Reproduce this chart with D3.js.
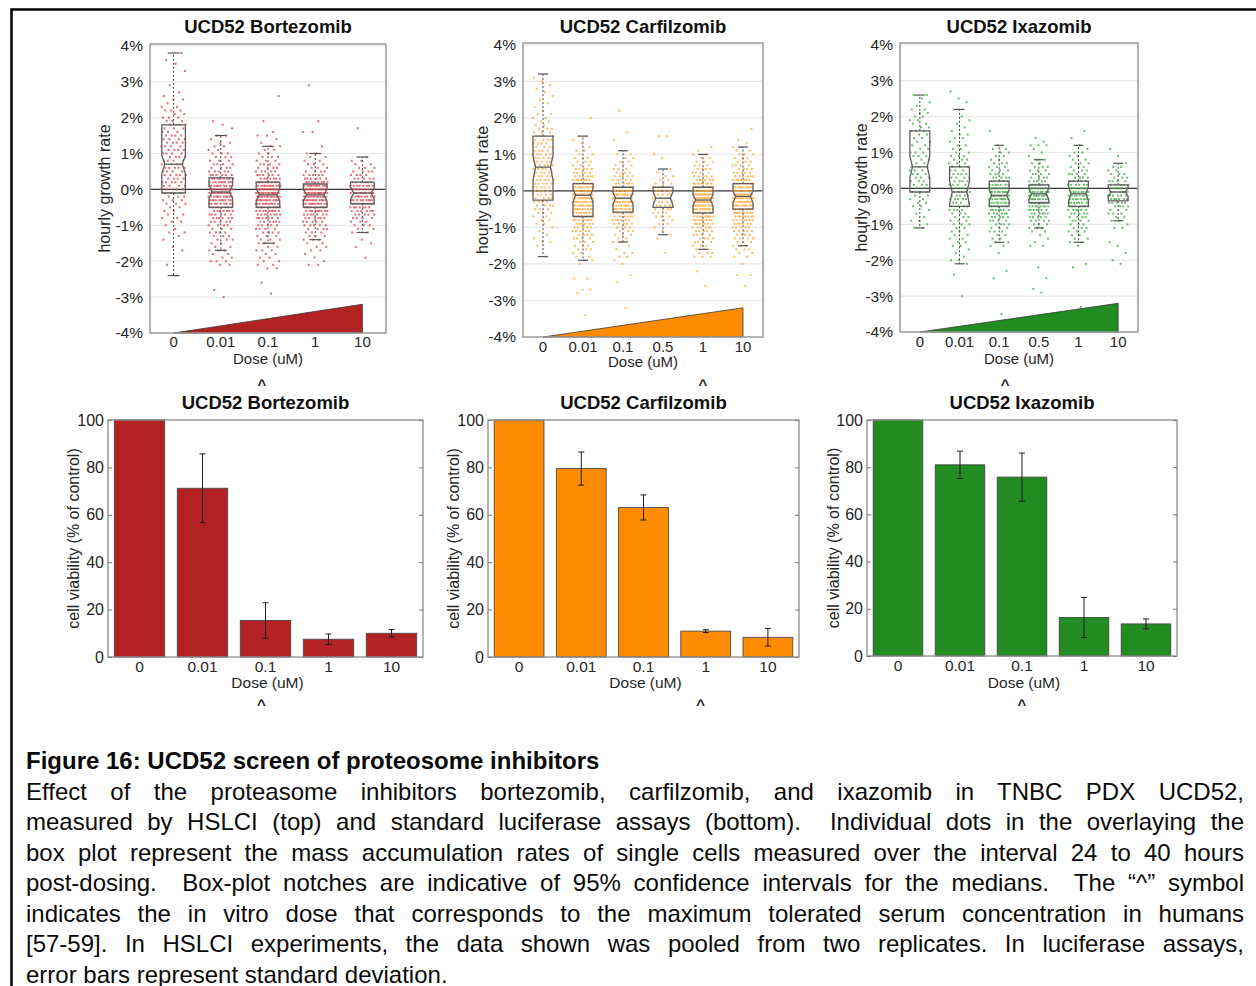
<!DOCTYPE html>
<html>
<head>
<meta charset="utf-8">
<script src="https://cdn.jsdelivr.net/npm/d3@7"></script>
<style>
  html, body { margin: 0; padding: 0; background: #fff; }
  #wrap { position: relative; width: 1256px; height: 986px; overflow: hidden; }
  #fig { position: absolute; left: 0; top: 0; }
  #caption {
    position: absolute; left: 26px; top: 746px; width: 1218px;
    font-family: "Liberation Sans", Arial, sans-serif; font-size: 24px;
    line-height: 30.5px; color: #0a0a0a;
  }
  #caption .ln { text-align: justify; text-align-last: justify; height: 30.5px; overflow: hidden; white-space: nowrap; }
  #caption .last { text-align: left; text-align-last: left; }
  #caption .head { font-weight: bold; font-size: 24px; text-align: left; text-align-last: left; }
</style>
</head>
<body>
<div id="wrap">
  <svg id="fig" width="1256" height="986"></svg>
  <div id="caption"></div>
</div>
<script>
// ---------------- data ----------------
// Doses (uM) used in each screen
const dosesBortezomib = ["0", "0.01", "0.1", "1", "10"];
const dosesCarfilzomib = ["0", "0.01", "0.1", "0.5", "1", "10"];
const dosesIxazomib = ["0", "0.01", "0.1", "0.5", "1", "10"];

// Notched box statistics per dose, hourly growth rate in %:
// [whiskerLow, q1, notchLow, median, notchHigh, q3, whiskerHigh]
const boxBortezomib = [
  [-2.4, -0.1, 0.45, 0.7, 0.95, 1.8, 3.8],
  [-1.7, -0.5, -0.25, -0.07, 0.13, 0.32, 1.5],
  [-1.5, -0.5, -0.32, -0.15, 0.02, 0.2, 1.2],
  [-1.4, -0.5, -0.32, -0.15, 0.0, 0.15, 1.0],
  [-1.2, -0.4, -0.27, -0.1, 0.06, 0.2, 0.9]
];
const boxCarfilzomib = [
  [-1.8, -0.25, 0.3, 0.65, 0.95, 1.5, 3.2],
  [-1.9, -0.7, -0.3, -0.12, 0.05, 0.2, 1.5],
  [-1.4, -0.58, -0.36, -0.2, -0.05, 0.1, 1.1],
  [-1.2, -0.45, -0.4, -0.2, -0.02, 0.1, 0.6],
  [-1.6, -0.6, -0.4, -0.25, -0.1, 0.1, 1.0],
  [-1.5, -0.5, -0.32, -0.15, 0.0, 0.2, 1.2]
];
const boxIxazomib = [
  [-1.1, -0.1, 0.3, 0.6, 0.9, 1.6, 2.6],
  [-2.1, -0.5, -0.45, -0.1, 0.2, 0.6, 2.2],
  [-1.5, -0.5, -0.33, -0.2, -0.05, 0.2, 1.2],
  [-1.1, -0.4, -0.3, -0.15, 0.0, 0.1, 0.8],
  [-1.5, -0.5, -0.35, -0.15, 0.05, 0.2, 1.2],
  [-0.9, -0.35, -0.22, -0.1, 0.02, 0.1, 0.7]
];

// Single-cell mass accumulation rates, tallied per 0.1 %/h step:
// "from" is the lowest rate, n[k] counts cells at from + 0.1*k
const cellsBortezomib = [
  { from: -2.4, n: [1,0,0,1,0,0,0,1,1,0,1,1,2,1,1,2,2,2,2,2,3,3,3,4,5,4,5,4,5,4,5,4,4,4,4,4,4,4,4,4,3,3,4,3,3,2,3,2,1,2,1,1,0,1,0,0,0,1,0,1,1,0,1] },
  { from: -3.0, n: [1,0,1,0,0,0,0,0,0,2,3,2,2,3,2,2,3,3,4,3,4,5,6,6,7,8,9,10,11,12,12,10,9,8,6,5,4,4,3,3,3,2,2,2,1,2,0,1,1,1] },
  { from: -2.9, n: [1,0,0,1,0,0,0,2,2,2,2,2,3,2,3,3,3,4,4,5,6,7,8,9,10,11,12,13,14,13,11,9,7,6,5,4,4,3,3,2,2,2,1,1,2,1,0,0,1,0,0,0,0,0,0,1] },
  { from: -2.1, n: [2,1,1,1,2,2,2,3,3,3,4,5,5,6,7,9,10,11,12,13,14,13,11,8,6,5,4,3,3,2,2,2,0,1,0,0,0,2,0,0,1,0,0,0,0,0,0,0,0,0,1] },
  { from: -1.9, n: [1,0,0,1,1,1,0,2,2,3,3,4,5,6,7,8,9,9,10,9,8,6,5,4,4,3,2,2,1,0,0,0,0,0,0,0,1] }
];
const cellsCarfilzomib = [
  { from: -1.8, n: [1,0,0,1,2,1,1,1,1,2,2,2,3,3,4,4,4,5,5,5,5,5,5,5,5,5,5,5,5,4,4,4,4,4,3,3,2,2,2,2,1,1,1,1,1,1,1,1,1,1,1] },
  { from: -3.4, n: [1,0,0,0,0,0,1,2,0,0,2,0,0,0,1,2,2,2,3,3,3,4,4,5,5,6,7,8,8,9,10,11,12,12,11,10,8,7,6,5,5,3,3,3,2,2,1,1,1,2,0,0,0,0,1] },
  { from: -3.2, n: [1,0,0,0,0,0,0,1,0,1,0,0,1,1,2,2,1,1,2,2,3,3,4,5,6,7,8,9,9,10,10,10,9,7,6,5,5,4,3,3,2,2,2,1,0,0,1,0,1,0,0,0,0,0,1] },
  { from: -1.7, n: [1,0,0,0,1,1,1,1,2,2,3,3,4,5,5,6,5,5,4,3,2,2,1,1,0,0,1,1,0,0,0,0,2] },
  { from: -2.6, n: [1,0,0,0,1,0,0,0,3,3,3,3,4,4,4,5,6,7,8,9,10,11,12,13,13,13,12,10,8,6,5,4,4,3,3,2,2,1,1] },
  { from: -2.6, n: [1,0,0,2,0,0,1,0,2,2,3,3,3,4,4,5,5,6,7,8,9,10,11,12,12,12,11,10,9,7,6,5,4,4,3,3,3,2,2,1,1,0,0,1] }
];
const cellsIxazomib = [
  { from: -1.1, n: [2,1,2,1,1,1,2,2,2,2,2,3,3,3,3,3,3,3,2,2,3,3,2,2,2,2,2,3,2,2,2,2,2,2,1,1,1,2] },
  { from: -3.0, n: [1,0,0,0,0,0,1,0,0,1,2,1,1,1,2,2,2,2,2,2,3,3,3,3,4,4,4,5,5,5,5,4,4,4,4,3,3,3,3,3,2,2,2,1,2,2,1,1,1,1,1,0,1,0,1,1,0,1] },
  { from: -3.5, n: [1,0,0,0,0,0,0,0,0,0,1,0,1,0,0,0,0,1,0,2,2,2,2,3,3,4,4,5,6,7,8,8,9,9,9,8,7,6,5,4,3,3,3,2,2,2,2,1,0,0,0,1] },
  { from: -2.9, n: [1,1,0,0,1,0,0,1,0,0,0,0,0,2,1,1,1,2,3,3,4,5,6,7,8,9,9,10,9,8,7,5,4,4,3,3,2,2,1,1,1,3,1,1] },
  { from: -3.3, n: [1,0,0,0,0,0,0,0,0,0,0,1,1,0,0,0,0,1,2,2,2,3,3,3,4,4,5,6,7,7,8,8,8,7,6,5,4,4,3,3,3,2,2,2,1,1,0,1,0,1] },
  { from: -2.1, n: [1,1,0,1,0,1,1,0,0,0,2,1,2,2,3,3,4,5,6,6,6,6,5,4,3,3,2,2,1,0,1,0,1] }
];
// lowest and highest value of the dose ramp drawn under each box plot (%)
const rampRange = [-4, -3.2];

// Luciferase viability (% of control), mean and standard deviation
const viabilityDoses = ["0", "0.01", "0.1", "1", "10"];
const viabilityBortezomib = [100, 71.2, 15.4, 7.5, 10.0];
const sdBortezomib = [0, 14.5, 7.5, 2.2, 1.6];
const viabilityCarfilzomib = [100, 79.5, 63.1, 10.9, 8.3];
const sdCarfilzomib = [0, 7.0, 5.3, 0.6, 3.7];
const viabilityIxazomib = [100, 81.0, 75.8, 16.3, 13.6];
const sdIxazomib = [0, 5.8, 10.2, 8.5, 2.1];

// ---------------- drawing ----------------
const svg = d3.select("#fig");
const FONT = '"Liberation Sans", Arial, Helvetica, sans-serif';

// outer frame of the figure
svg.append("path")
  .attr("d", "M11.5,986 V9.5 H1256")
  .attr("fill", "none").attr("stroke", "#000").attr("stroke-width", 2.5);

const topPanels = [
  { title: "UCD52 Bortezomib", doses: dosesBortezomib, box: boxBortezomib, cells: cellsBortezomib,
    fill: "#b22222", dot: "#d6474b", left: 150, right: 386, top: 44, bottom: 333,
    tickDy: 3, doseY: 358, titleX: 105, mtd: "0.1", mtdDx: -6 },
  { title: "UCD52 Carfilzomib", doses: dosesCarfilzomib, box: boxCarfilzomib, cells: cellsCarfilzomib,
    fill: "#ff8c00", dot: "#ffa63a", left: 523, right: 763, top: 43, bottom: 337,
    tickDy: 4, doseY: 361, titleX: 483, mtd: "1", mtdDx: 0 },
  { title: "UCD52 Ixazomib", doses: dosesIxazomib, box: boxIxazomib, cells: cellsIxazomib,
    fill: "#228b22", dot: "#45ab45", left: 900, right: 1138, top: 43, bottom: 332,
    tickDy: 4.5, doseY: 358, titleX: 862, mtd: "0.1", mtdDx: 6 }
];

topPanels.forEach(p => {
  const g = svg.append("g");
  const x = d3.scaleBand().domain(p.doses).range([p.left, p.right]);
  const y = d3.scaleLinear().domain([-4, 4.05]).range([p.bottom, p.top]);
  const cx = d => x(d) + x.bandwidth() / 2;
  const bw = x.bandwidth() * 0.5;

  // grid
  g.append("g").selectAll("line").data(d3.range(-3, 5))
    .join("line")
    .attr("x1", p.left).attr("x2", p.right)
    .attr("y1", d => y(d)).attr("y2", d => y(d))
    .attr("stroke", "#e9e9e9").attr("stroke-width", 1.2);

  // dose ramp
  const last = p.doses[p.doses.length - 1];
  g.append("path")
    .attr("d", d3.line()([
      [cx(p.doses[0]), y(rampRange[0])],
      [cx(last), y(rampRange[1])],
      [cx(last), y(rampRange[0])]
    ]) + "Z")
    .attr("fill", p.fill).attr("stroke", "#3a3a3a").attr("stroke-width", 0.8);

  // zero line
  g.append("line")
    .attr("x1", p.left).attr("x2", p.right)
    .attr("y1", y(0)).attr("y2", y(0))
    .attr("stroke", "#3c3c3c").attr("stroke-width", 1.1);

  // single-cell dots, spread sideways across the box width
  p.doses.forEach((dose, i) => {
    const grp = p.cells[i];
    const vals = [];
    grp.n.forEach((c, k) => { for (let j = 0; j < c; j++) vals.push(+(grp.from + k * 0.1).toFixed(1)); });
    g.append("g").selectAll("rect").data(vals).join("rect")
      .attr("x", (v, j) => cx(dose) + ((((j + 1) * 0.6180339887) % 1) - 0.5) * bw * 1.05 - 1)
      .attr("y", v => y(v) - 1)
      .attr("width", 2).attr("height", 2)
      .attr("fill", p.dot).attr("opacity", 0.78);
  });

  // notched boxes with whiskers
  p.doses.forEach((dose, i) => {
    const [wl, q1, nl, med, nh, q3, wh] = p.box[i];
    const c = cx(dose), h = bw / 2, ins = bw * 0.13;
    const bg = g.append("g");
    // whiskers
    bg.append("line").attr("x1", c).attr("x2", c).attr("y1", y(q3)).attr("y2", y(wh))
      .attr("stroke", "#444").attr("stroke-width", 1).attr("stroke-dasharray", "2,2");
    bg.append("line").attr("x1", c).attr("x2", c).attr("y1", y(q1)).attr("y2", y(wl))
      .attr("stroke", "#444").attr("stroke-width", 1).attr("stroke-dasharray", "2,2");
    [wl, wh].forEach(v => bg.append("line")
      .attr("x1", c - h / 2).attr("x2", c + h / 2).attr("y1", y(v)).attr("y2", y(v))
      .attr("stroke", "#555").attr("stroke-width", 1.2));
    // box outline with notch
    const pts = [
      [c - h, y(q3)], [c - h, y(nh)], [c - h + ins, y(med)], [c - h, y(nl)], [c - h, y(q1)],
      [c + h, y(q1)], [c + h, y(nl)], [c + h - ins, y(med)], [c + h, y(nh)], [c + h, y(q3)]
    ];
    bg.append("path").attr("d", d3.line()(pts) + "Z")
      .attr("fill", "none").attr("stroke", "#5e5e5e").attr("stroke-width", 1.3);
    bg.append("line").attr("x1", c - h + ins).attr("x2", c + h - ins)
      .attr("y1", y(med)).attr("y2", y(med))
      .attr("stroke", "#5e5e5e").attr("stroke-width", 1.3);
  });

  // frame
  g.append("rect").attr("x", p.left).attr("y", p.top)
    .attr("width", p.right - p.left).attr("height", p.bottom - p.top)
    .attr("fill", "none").attr("stroke", "#9a9a9a").attr("stroke-width", 1.5);

  // axes
  const ya = g.append("g").attr("transform", `translate(${p.left - 2},0)`)
    .call(d3.axisLeft(y).tickValues(d3.range(-4, 5)).tickFormat(d => d + "%").tickSize(0).tickPadding(5));
  ya.select(".domain").remove();
  ya.selectAll("text").attr("font-family", FONT).attr("font-size", 15.5).attr("fill", "#262626");

  const xa = g.append("g").attr("transform", `translate(0,${p.bottom + p.tickDy})`)
    .call(d3.axisBottom(x).tickSize(0).tickPadding(0));
  xa.select(".domain").remove();
  xa.selectAll("text").attr("font-family", FONT).attr("font-size", 15).attr("fill", "#262626");

  g.append("text").attr("x", (p.left + p.right) / 2).attr("y", p.doseY + 6)
    .attr("text-anchor", "middle").attr("font-family", FONT).attr("font-size", 15)
    .attr("fill", "#262626").text("Dose (uM)");
  g.append("text").attr("x", cx(p.mtd) + p.mtdDx).attr("y", 390)
    .attr("text-anchor", "middle").attr("font-family", FONT).attr("font-size", 15)
    .attr("font-weight", "bold").attr("fill", "#222").text("^");

  g.append("text")
    .attr("transform", `translate(${p.titleX + 5},${(p.top + p.bottom) / 2}) rotate(-90)`)
    .attr("text-anchor", "middle").attr("font-family", FONT).attr("font-size", 16)
    .attr("fill", "#262626").text("hourly growth rate");

  g.append("text").attr("x", (p.left + p.right) / 2).attr("y", 33)
    .attr("text-anchor", "middle").attr("font-family", FONT).attr("font-size", 18.5)
    .attr("font-weight", "bold").attr("fill", "#111").text(p.title);
});

const bottomPanels = [
  { title: "UCD52 Bortezomib", values: viabilityBortezomib, sd: sdBortezomib, fill: "#b22222",
    left: 108, right: 423, top: 420, bottom: 657, titleX: 73, mtd: "0.1", mtdDx: -4 },
  { title: "UCD52 Carfilzomib", values: viabilityCarfilzomib, sd: sdCarfilzomib, fill: "#ff8c00",
    left: 488, right: 799, top: 420, bottom: 657, titleX: 453, mtd: "1", mtdDx: -5 },
  { title: "UCD52 Ixazomib", values: viabilityIxazomib, sd: sdIxazomib, fill: "#228b22",
    left: 867, right: 1177, top: 420, bottom: 656, titleX: 833, mtd: "0.1", mtdDx: 0 }
];

bottomPanels.forEach(p => {
  const g = svg.append("g");
  const x = d3.scaleBand().domain(viabilityDoses).range([p.left, p.right])
    .paddingInner(0.2).paddingOuter(0.1);
  const y = d3.scaleLinear().domain([0, 100]).range([p.bottom, p.top]);
  const rows = viabilityDoses.map((d, i) => ({ dose: d, v: p.values[i], sd: p.sd[i] }));

  g.append("g").selectAll("rect").data(rows).join("rect")
    .attr("x", d => x(d.dose)).attr("y", d => y(d.v))
    .attr("width", x.bandwidth()).attr("height", d => y(0) - y(d.v))
    .attr("fill", p.fill).attr("stroke", "#4a4a4a").attr("stroke-width", 0.9);

  // error bars (standard deviation)
  const eb = g.append("g").selectAll("g").data(rows.filter(d => d.sd > 0)).join("g")
    .attr("stroke", "#1e1e1e").attr("stroke-width", 1);
  eb.append("line")
    .attr("x1", d => x(d.dose) + x.bandwidth() / 2).attr("x2", d => x(d.dose) + x.bandwidth() / 2)
    .attr("y1", d => y(d.v - d.sd)).attr("y2", d => y(d.v + d.sd));
  [-1, 1].forEach(s => eb.append("line")
    .attr("x1", d => x(d.dose) + x.bandwidth() / 2 - 3).attr("x2", d => x(d.dose) + x.bandwidth() / 2 + 3)
    .attr("y1", d => y(d.v + s * d.sd)).attr("y2", d => y(d.v + s * d.sd)));

  // frame and inner ticks
  g.append("rect").attr("x", p.left).attr("y", p.top)
    .attr("width", p.right - p.left).attr("height", p.bottom - p.top)
    .attr("fill", "none").attr("stroke", "#8c8c8c").attr("stroke-width", 1.3);
  const yl = g.append("g").attr("transform", `translate(${p.left},0)`)
    .call(d3.axisLeft(y).tickValues(d3.range(0, 101, 20)).tickSize(-4).tickPadding(4));
  yl.select(".domain").remove();
  yl.selectAll("line").attr("stroke", "#777");
  yl.selectAll("text").attr("font-family", FONT).attr("font-size", 16).attr("fill", "#262626");
  const yr = g.append("g").attr("transform", `translate(${p.right},0)`)
    .call(d3.axisRight(y).tickValues(d3.range(0, 101, 20)).tickSize(-4).tickFormat(""));
  yr.select(".domain").remove();
  yr.selectAll("line").attr("stroke", "#777");

  const xa = g.append("g").attr("transform", `translate(0,${p.bottom + 4})`)
    .call(d3.axisBottom(x).tickSize(0).tickPadding(0));
  xa.select(".domain").remove();
  xa.selectAll("text").attr("font-family", FONT).attr("font-size", 15.5).attr("fill", "#262626");

  g.append("text").attr("x", (p.left + p.right) / 2 + 2).attr("y", 688)
    .attr("text-anchor", "middle").attr("font-family", FONT).attr("font-size", 15.5)
    .attr("fill", "#262626").text("Dose (uM)");
  g.append("text").attr("x", x(p.mtd) + x.bandwidth() / 2 + p.mtdDx).attr("y", 710)
    .attr("text-anchor", "middle").attr("font-family", FONT).attr("font-size", 15)
    .attr("font-weight", "bold").attr("fill", "#222").text("^");

  g.append("text")
    .attr("transform", `translate(${p.titleX + 6},${(p.top + p.bottom) / 2}) rotate(-90)`)
    .attr("text-anchor", "middle").attr("font-family", FONT).attr("font-size", 16)
    .attr("fill", "#262626").text("cell viability (% of control)");

  g.append("text").attr("x", (p.left + p.right) / 2).attr("y", 409)
    .attr("text-anchor", "middle").attr("font-family", FONT).attr("font-size", 18.5)
    .attr("font-weight", "bold").attr("fill", "#111").text(p.title);
});

// ---------------- caption ----------------
const captionLines = [
  "Figure 16: UCD52 screen of proteosome inhibitors",
  "Effect of the proteasome inhibitors bortezomib, carfilzomib, and ixazomib in TNBC PDX UCD52,",
  "measured by HSLCI (top) and standard luciferase assays (bottom).\u00a0 Individual dots in the overlaying the",
  "box plot represent the mass accumulation rates of single cells measured over the interval 24 to 40 hours",
  "post-dosing.\u00a0 Box-plot notches are indicative of 95% confidence intervals for the medians.\u00a0 The \u201c^\u201d symbol",
  "indicates the in vitro dose that corresponds to the maximum tolerated serum concentration in humans",
  "[57-59]. In HSLCI experiments, the data shown was pooled from two replicates. In luciferase assays,",
  "error bars represent standard deviation."
];
d3.select("#caption").selectAll("div").data(captionLines).join("div")
  .attr("class", (d, i) => "ln" + (i === 0 ? " head" : "") + (i === captionLines.length - 1 ? " last" : ""))
  .text(d => d);
</script>
</body>
</html>
